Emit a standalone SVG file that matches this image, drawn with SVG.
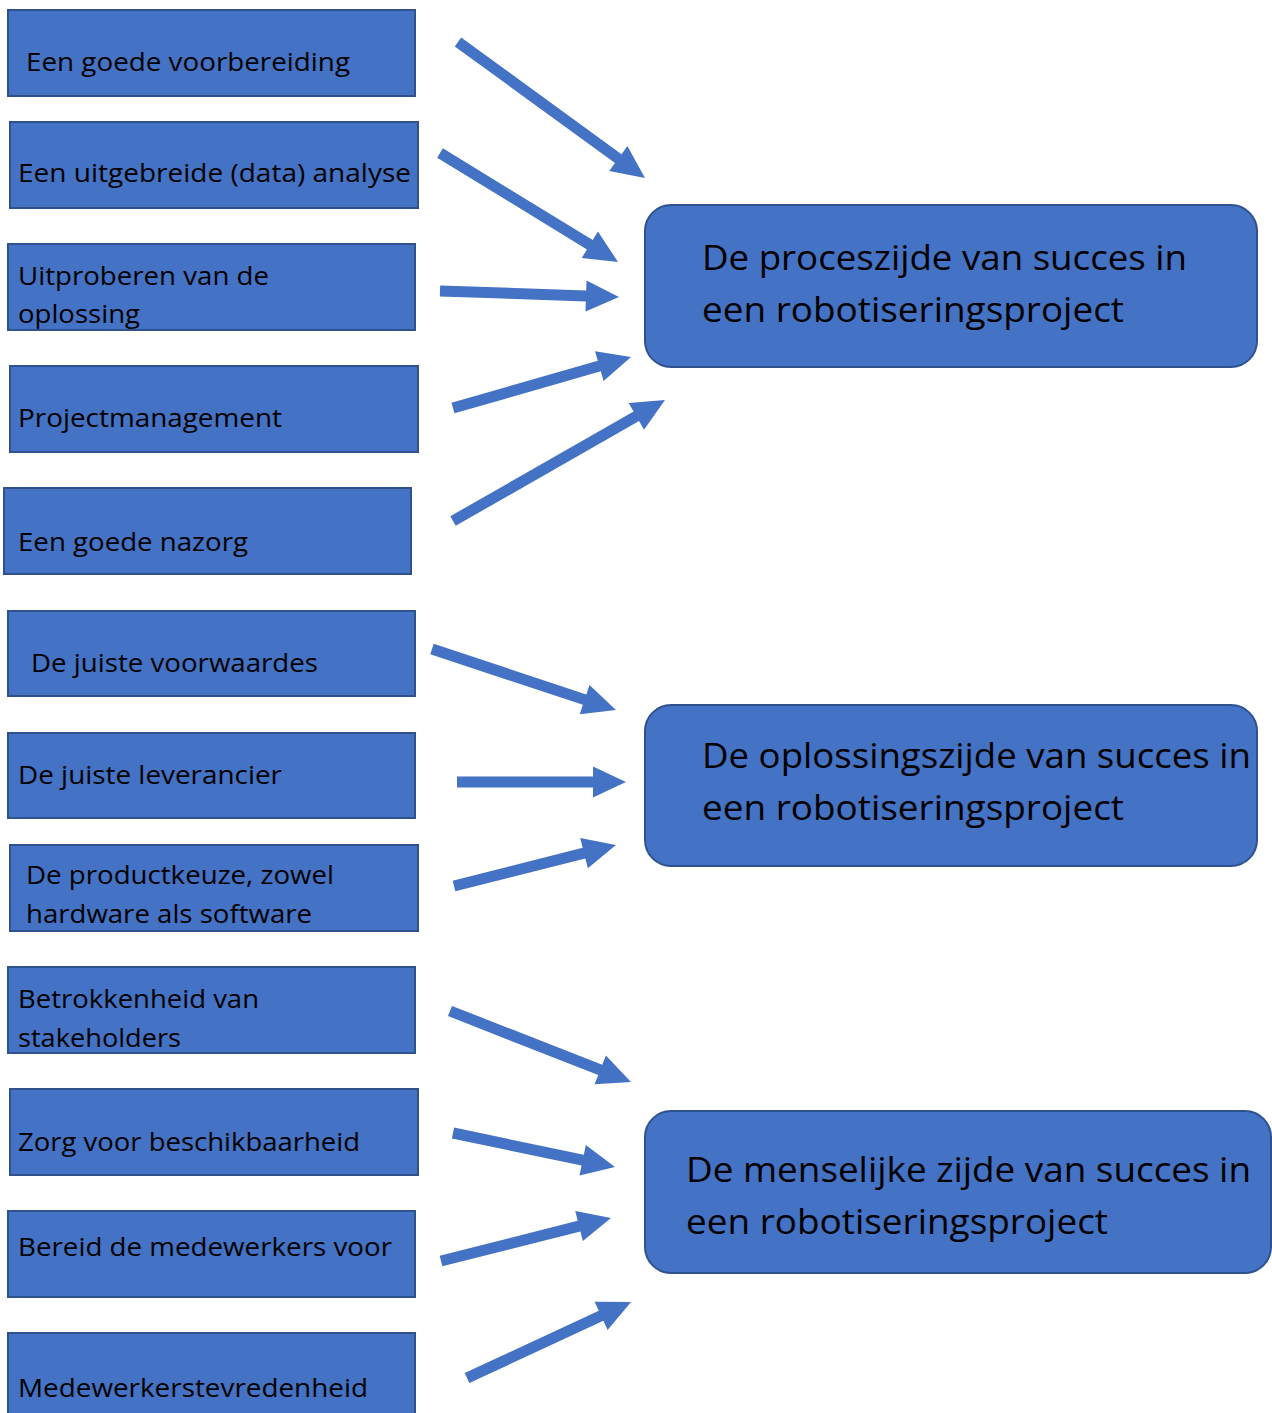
<svg xmlns="http://www.w3.org/2000/svg" width="1272" height="1413" viewBox="0 0 1272 1413">
<style>
.box{fill:#4472C4;stroke:#2F528F;stroke-width:2}
.big{fill:#4472C4;stroke:#2F528F;stroke-width:2}
.t{font-family:"Open Sans","Noto Sans","Liberation Sans",sans-serif;font-size:25px;fill:#000}
.tb{font-family:"Open Sans","Noto Sans","Liberation Sans",sans-serif;font-size:34px;fill:#000}
.arr{fill:#4472C4}
</style>
<rect width="1272" height="1413" fill="#fff"/>
<g id="n1"><rect class="box" x="8" y="10" width="407" height="86"/><text class="t" x="26" y="71" textLength="324" lengthAdjust="spacingAndGlyphs">Een goede voorbereiding</text></g>
<g id="n2"><rect class="box" x="10" y="122" width="408" height="86"/><text class="t" x="18" y="182" textLength="393" lengthAdjust="spacingAndGlyphs">Een uitgebreide (data) analyse</text></g>
<g id="n3"><rect class="box" x="8" y="244" width="407" height="86"/><text class="t" x="18" y="285" textLength="251" lengthAdjust="spacingAndGlyphs">Uitproberen van de</text><text class="t" x="18" y="323" textLength="122" lengthAdjust="spacingAndGlyphs">oplossing</text></g>
<g id="n4"><rect class="box" x="10" y="366" width="408" height="86"/><text class="t" x="18" y="427" textLength="264" lengthAdjust="spacingAndGlyphs">Projectmanagement</text></g>
<g id="n5"><rect class="box" x="4" y="488" width="407" height="86"/><text class="t" x="18" y="551" textLength="230" lengthAdjust="spacingAndGlyphs">Een goede nazorg</text></g>
<g id="n6"><rect class="box" x="8" y="611" width="407" height="85"/><text class="t" x="31" y="672" textLength="287" lengthAdjust="spacingAndGlyphs">De juiste voorwaardes</text></g>
<g id="n7"><rect class="box" x="8" y="733" width="407" height="85"/><text class="t" x="18" y="784" textLength="264" lengthAdjust="spacingAndGlyphs">De juiste leverancier</text></g>
<g id="n8"><rect class="box" x="10" y="845" width="408" height="86"/><text class="t" x="26" y="884" textLength="308" lengthAdjust="spacingAndGlyphs">De productkeuze, zowel</text><text class="t" x="26" y="923" textLength="286" lengthAdjust="spacingAndGlyphs">hardware als software</text></g>
<g id="n9"><rect class="box" x="8" y="967" width="407" height="86"/><text class="t" x="18" y="1008" textLength="241" lengthAdjust="spacingAndGlyphs">Betrokkenheid van</text><text class="t" x="18" y="1047" textLength="163" lengthAdjust="spacingAndGlyphs">stakeholders</text></g>
<g id="n10"><rect class="box" x="10" y="1089" width="408" height="86"/><text class="t" x="18" y="1151" textLength="342" lengthAdjust="spacingAndGlyphs">Zorg voor beschikbaarheid</text></g>
<g id="n11"><rect class="box" x="8" y="1211" width="407" height="86"/><text class="t" x="18" y="1256" textLength="374" lengthAdjust="spacingAndGlyphs">Bereid de medewerkers voor</text></g>
<g id="n12"><rect class="box" x="8" y="1333" width="407" height="90"/><text class="t" x="18" y="1397" textLength="350" lengthAdjust="spacingAndGlyphs">Medewerkerstevredenheid</text></g>
<g id="A"><rect class="big" x="645" y="205" width="612" height="162" rx="26"/><text class="tb" x="702" y="270" textLength="485" lengthAdjust="spacingAndGlyphs">De proceszijde van succes in</text><text class="tb" x="702" y="322" textLength="422" lengthAdjust="spacingAndGlyphs">een robotiseringsproject</text></g>
<g id="B"><rect class="big" x="645" y="705" width="612" height="161" rx="26"/><text class="tb" x="702" y="768" textLength="549" lengthAdjust="spacingAndGlyphs">De oplossingszijde van succes in</text><text class="tb" x="702" y="820" textLength="422" lengthAdjust="spacingAndGlyphs">een robotiseringsproject</text></g>
<g id="C"><rect class="big" x="645" y="1111" width="626" height="162" rx="26"/><text class="tb" x="686" y="1182" textLength="565" lengthAdjust="spacingAndGlyphs">De menselijke zijde van succes in</text><text class="tb" x="686" y="1234" textLength="422" lengthAdjust="spacingAndGlyphs">een robotiseringsproject</text></g>
<g id="connectors">
<polygon class="arr" transform="translate(458,42) rotate(36.03)" points="0,-5.5 198.2,-5.5 198.2,-15.5 231.2,0 198.2,15.5 198.2,5.5 0,5.5"/>
<polygon class="arr" transform="translate(440,153) rotate(31.48)" points="0,-5.5 175.7,-5.5 175.7,-15.5 208.7,0 175.7,15.5 175.7,5.5 0,5.5"/>
<polygon class="arr" transform="translate(440,291) rotate(1.92)" points="0,-5.5 146.1,-5.5 146.1,-15.5 179.1,0 146.1,15.5 146.1,5.5 0,5.5"/>
<polygon class="arr" transform="translate(453,408) rotate(-15.99)" points="0,-5.5 152.2,-5.5 152.2,-15.5 185.2,0 152.2,15.5 152.2,5.5 0,5.5"/>
<polygon class="arr" transform="translate(453,521) rotate(-29.72)" points="0,-5.5 211.1,-5.5 211.1,-15.5 244.1,0 211.1,15.5 211.1,5.5 0,5.5"/>
<polygon class="arr" transform="translate(432,649) rotate(18.34)" points="0,-5.5 160.8,-5.5 160.8,-15.5 193.8,0 160.8,15.5 160.8,5.5 0,5.5"/>
<polygon class="arr" transform="translate(457,782) rotate(0)" points="0,-5.5 136,-5.5 136,-15.5 169,0 136,15.5 136,5.5 0,5.5"/>
<polygon class="arr" transform="translate(454,886) rotate(-14.2)" points="0,-5.5 134.1,-5.5 134.1,-15.5 167.1,0 134.1,15.5 134.1,5.5 0,5.5"/>
<polygon class="arr" transform="translate(450,1011) rotate(21.42)" points="0,-5.5 161.4,-5.5 161.4,-15.5 194.4,0 161.4,15.5 161.4,5.5 0,5.5"/>
<polygon class="arr" transform="translate(453,1133) rotate(11.85)" points="0,-5.5 132.5,-5.5 132.5,-15.5 165.5,0 132.5,15.5 132.5,5.5 0,5.5"/>
<polygon class="arr" transform="translate(441,1261) rotate(-14.19)" points="0,-5.5 142.4,-5.5 142.4,-15.5 175.4,0 142.4,15.5 142.4,5.5 0,5.5"/>
<polygon class="arr" transform="translate(467,1378) rotate(-24.86)" points="0,-5.5 147.8,-5.5 147.8,-15.5 180.8,0 147.8,15.5 147.8,5.5 0,5.5"/>
</g>
</svg>
